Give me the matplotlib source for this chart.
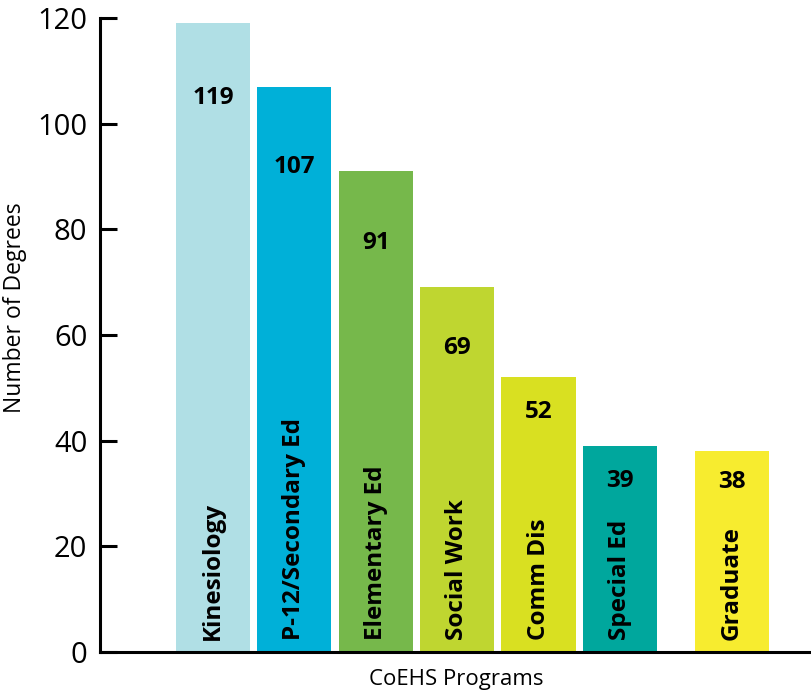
import matplotlib.pyplot as plt
import numpy as np

plt.rcParams["font.family"] = ["Open Sans", "DejaVu Sans"]

programs = ["Kinesiology", "P-12/Secondary Ed", "Elementary Ed", "Social Work",
            "Comm Dis", "Special Ed", "Graduate"]
degrees = [119, 107, 91, 69, 52, 39, 38]
colors = ["#B0DFE5", "#00B0D8", "#76B84B", "#BFD630", "#D9E021", "#00A79D", "#F7EC2F"]

# layout: Graduate sits apart from the undergraduate bars
positions = np.array([0, 1, 2, 3, 4, 5, 6.376])
label_drop = [75, 80, 72, 61, 35, 35, 31]  # px below bar top

fig = plt.figure(figsize=(8.12, 6.96), dpi=100)
ax = fig.add_axes([100 / 812, 44 / 696, 712 / 812, 634 / 696])

ax.bar(positions, degrees, width=0.91, color=colors, zorder=1)

for x, v, name, d in zip(positions, degrees, programs, label_drop):
    ax.annotate(str(v), xy=(x, v), xytext=(0, -d), textcoords="offset pixels",
                ha="center", va="center", fontsize=17.5, fontweight="bold")
    ax.text(x, 2.3, name, rotation=90, ha="center", va="bottom",
            fontsize=17.5, fontweight="bold")

ax.set_xlim(-1.388, 7.36)
ax.set_ylim(0, 120)
ax.set_xticks([])
ax.set_yticks(np.arange(0, 121, 20))
ax.tick_params(axis="y", direction="in", length=12, width=2.2, labelsize=21, pad=9)
for s in ["top", "right"]:
    ax.spines[s].set_visible(False)
for s in ["left", "bottom"]:
    ax.spines[s].set_linewidth(2.2)
    ax.spines[s].set_zorder(3)

ax.set_ylabel("Number of Degrees", fontsize=16.5)
ax.yaxis.set_label_coords(-0.1025, 0.543)
ax.set_xlabel("CoEHS Programs", fontsize=16, labelpad=12)

fig.savefig("out.png", dpi=100)
